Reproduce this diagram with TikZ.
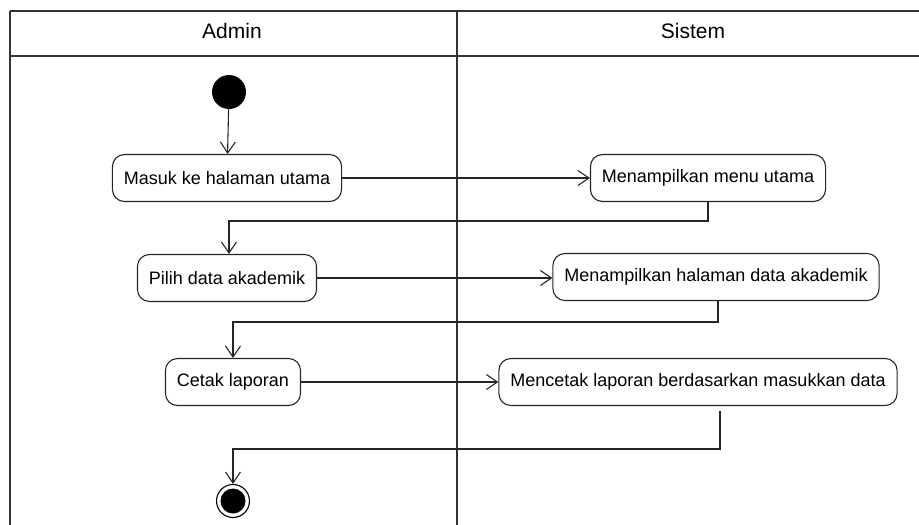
\documentclass[tikz,border=0pt]{standalone}
\usepackage{fontspec}
\setmainfont{Liberation Sans}
\usetikzlibrary{arrows.meta}
\begin{document}
\begin{tikzpicture}[x=1pt,y=-1pt,
  lane/.style={draw=black!80,line width=1.1pt},
  act/.style={draw=black!85,line width=1.1pt,rounded corners=12pt,minimum height=47pt,inner xsep=11.5pt,font=\fontsize{18}{20}\selectfont},
  flow/.style={draw=black!85,line width=1.1pt,-{Straight Barb[length=11pt,width=15pt,line width=1.1pt]}},
  hdr/.style={font=\fontsize{21}{24}\selectfont}]
\useasboundingbox (0,0) rectangle (919,525);
% swimlane frame
\draw[lane,line width=1.6pt] (10,11) -- (919,11);
\draw[lane] (10,56) -- (919,56);
\draw[lane] (10,11) -- (10,525);
\draw[lane] (457,11) -- (457,525);
\node[hdr] (hA) at (232,31) {Admin};
\node[hdr] (hS) at (693,31) {Sistem};
% nodes
\node[circle,fill=black,minimum size=34pt,inner sep=0pt] (start) at (229,92) {};
\node[act] (a1) at (227,178) {Masuk ke halaman utama};
\node[act] (s1) at (708,178) {Menampilkan menu utama};
\node[act] (a2) at (227,278) {Pilih data akademik};
\node[act] (s2) at (716,277) {Menampilkan halaman data akademik};
\node[act] (a3) at (233,382) {Cetak laporan};
\node[act] (s3) at (698,382) {Mencetak laporan berdasarkan masukkan data};
\node[circle,draw=black,line width=1.1pt,fill=white,minimum size=33pt,inner sep=0pt] (end) at (233,501) {};
\node[circle,fill=black,minimum size=25pt,inner sep=0pt] (endin) at (end) {};
% flows
\draw[flow] (start) -- (a1);
\draw[flow] (a1) -- (s1);
\draw[flow] (s1.south) -- (708,221) -| (a2.north -| 229,0);
\draw[flow] (a2) -- (a2 -| s2.west);
\draw[flow] (s2.south -| 718,0) -- (718,322) -| (a3.north);
\draw[flow] (a3) -- (a3 -| s3.west);
\draw[flow] (720,411) -- (720,449) -| (end.north);
\end{tikzpicture}
\end{document}
